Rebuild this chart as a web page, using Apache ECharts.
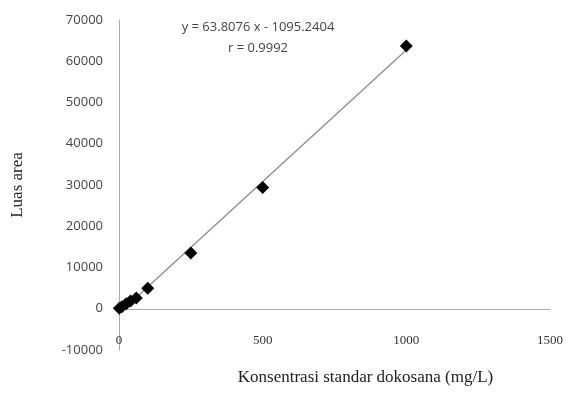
<!DOCTYPE html>
<html>
<head>
<meta charset="utf-8">
<script src="https://cdn.jsdelivr.net/npm/echarts@6/dist/echarts.min.js"></script>
<style>
  html, body { margin: 0; padding: 0; background: #fff; }
  #main { width: 570px; height: 396px; }
</style>
</head>
<body>
<div id="main"></div>
<script>
// konsentrasi (mg/L) dan luas area
var konsentrasi = [1, 10, 25, 40, 60, 100, 250, 500, 1000];
var luasArea = [100, 500, 1200, 1900, 2600, 5000, 13500, 29400, 63700];
// persamaan regresi seperti tertulis di grafik
var slope = 63.8076;
var intercept = -1095.2404;
var trendX = [0, 1000];
var xTicks = [0, 500, 1000, 1500];
var yTicks = [-10000, 0, 10000, 20000, 30000, 40000, 50000, 60000, 70000];

var points = [];
for (var i = 0; i < konsentrasi.length; i++) {
    points.push([konsentrasi[i], luasArea[i]]);
}
var trend = [];
for (var j = 0; j < trendX.length; j++) {
    trend.push([trendX[j], slope * trendX[j] + intercept]);
}

var myChart = echarts.init(document.getElementById('main'));
var option = {
    animation: false,
    backgroundColor: '#fff',
    grid: { left: 119, right: 20, top: 20, bottom: 46, containLabel: false, outerBoundsMode: 'none' },
    graphic: [
        {
            type: 'text',
            x: 258, y: 38,
            style: {
                text: 'y = 63.8076 x - 1095.2404\nr = 0.9992',
                font: '13px "Open Sans", sans-serif', fill: '#444',
                align: 'center', verticalAlign: 'middle', lineHeight: 21
            }
        }
    ],
    xAxis: {
        type: 'value',
        min: xTicks[0], max: xTicks[xTicks.length - 1], interval: 500,
        name: 'Konsentrasi standar dokosana (mg/L)',
        nameLocation: 'middle',
        nameGap: 19,
        nameTextStyle: {
            fontFamily: '"Liberation Serif", serif', fontSize: 17, color: '#222',
            padding: [0, 0, 0, 62]
        },
        axisLine: { onZero: true, lineStyle: { color: '#aaa', width: 1 } },
        axisTick: { show: false },
        axisLabel: {
            margin: -16,
            formatter: function (v) { return String(v); },
            fontFamily: '"Liberation Serif", serif', fontSize: 13, color: '#333'
        },
        splitLine: { show: false }
    },
    yAxis: {
        type: 'value',
        min: yTicks[0], max: yTicks[yTicks.length - 1], interval: 10000,
        name: 'Luas area',
        nameLocation: 'middle',
        nameGap: 93,
        nameTextStyle: {
            fontFamily: '"Liberation Serif", serif', fontSize: 17, color: '#222'
        },
        axisLine: { show: true, onZero: false, lineStyle: { color: '#aaa', width: 1 } },
        axisTick: { show: false },
        axisLabel: {
            margin: 16,
            formatter: function (v) { return String(v); },
            fontFamily: '"Open Sans", sans-serif', fontSize: 13, color: '#444'
        },
        splitLine: { show: false }
    },
    series: [
        {
            name: 'trend',
            type: 'line',
            data: trend,
            symbol: 'none',
            lineStyle: { color: '#888', width: 1.2 },
            z: 1
        },
        {
            name: 'data',
            type: 'scatter',
            data: points,
            symbol: 'diamond',
            symbolSize: [13, 13],
            itemStyle: { color: '#000', opacity: 1 },
            z: 2
        }
    ]
};
myChart.setOption(option);
</script>
</body>
</html>
